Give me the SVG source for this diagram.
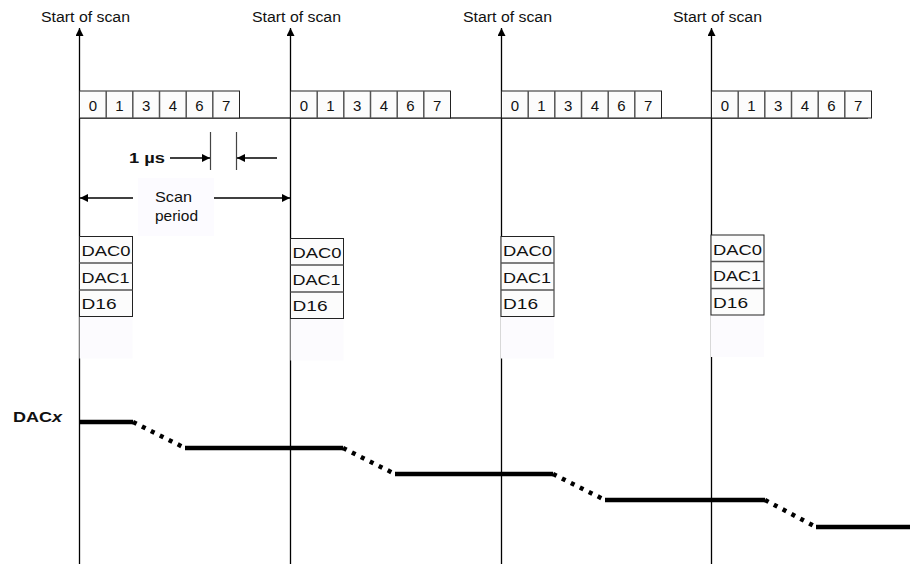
<svg xmlns="http://www.w3.org/2000/svg" width="910" height="564" viewBox="0 0 910 564">
<defs>
<marker id="ah" viewBox="0 0 10 10" refX="10" refY="5" markerWidth="8" markerHeight="8" markerUnits="userSpaceOnUse" orient="auto"><path d="M0,0 L10,5 L0,10 z" fill="#000"/></marker>
<g id="cells">
<rect x="0" y="0" width="160" height="27" fill="#fcfcfc" stroke="#222" stroke-width="1"/>
<path d="M26.7,0 V27 M53.3,0 V27 M80,0 V27 M106.7,0 V27 M133.3,0 V27" stroke="#555" stroke-width="1.5"/>
<text x="13.3" y="19.5" class="c">0</text><text x="40" y="19.5" class="c">1</text><text x="66.7" y="19.5" class="c">3</text><text x="93.3" y="19.5" class="c">4</text><text x="120" y="19.5" class="c">6</text><text x="146.7" y="19.5" class="c">7</text>
</g>
<g id="dac">
<rect x="0" y="80" width="53" height="42" fill="#fcfbfe"/>
<rect x="0" y="0" width="53" height="80" fill="#fcfcfc" stroke="#222" stroke-width="1"/>
<path d="M0,26.5 H53 M0,53.5 H53" stroke="#555" stroke-width="1.5"/>
<text x="2" y="19.5" class="d" textLength="49" lengthAdjust="spacingAndGlyphs">DAC0</text><text x="2" y="46" class="d" textLength="48" lengthAdjust="spacingAndGlyphs">DAC1</text><text x="2" y="72.5" class="d" textLength="35" lengthAdjust="spacingAndGlyphs">D16</text>
</g>
</defs>
<style>
text{font-family:"Liberation Sans",Arial,sans-serif;fill:#111}
.c{font-size:15px;text-anchor:middle}
.d{font-size:15px}
.s{font-size:14px}
.v{stroke:#444;stroke-width:1.2;fill:none}
.w{stroke:#000;stroke-width:4.5;fill:none}
.wd{stroke:#000;stroke-width:4.5;fill:none;stroke-dasharray:4 6}
.a{stroke:#000;stroke-width:1.3;fill:none;marker-end:url(#ah)}
</style>
<rect width="910" height="564" fill="#fff"/>
<g id="connectors">
<line x1="79.5" y1="118" x2="868" y2="118" stroke="#333" stroke-width="1.5"/>
<line class="a" x1="79.5" y1="564" x2="79.5" y2="28"/>
<line class="a" x1="290.5" y1="564" x2="290.5" y2="28"/>
<line class="a" x1="501.5" y1="564" x2="501.5" y2="28"/>
<line class="a" x1="711.5" y1="564" x2="711.5" y2="28"/>
<line class="v" x1="210.5" y1="132" x2="210.5" y2="170"/>
<line class="v" x1="236.5" y1="132" x2="236.5" y2="170"/>
<line class="a" x1="170" y1="158" x2="210" y2="158"/>
<line class="a" x1="277" y1="158" x2="237" y2="158"/>
<line class="a" x1="133" y1="198" x2="80" y2="198"/>
<line class="a" x1="213" y1="198" x2="290" y2="198"/>
</g>
<g id="labels">
<text class="s" x="41" y="22" textLength="89" lengthAdjust="spacingAndGlyphs">Start of scan</text>
<text class="s" x="252" y="22" textLength="89" lengthAdjust="spacingAndGlyphs">Start of scan</text>
<text class="s" x="463" y="22" textLength="89" lengthAdjust="spacingAndGlyphs">Start of scan</text>
<text class="s" x="673" y="22" textLength="89" lengthAdjust="spacingAndGlyphs">Start of scan</text>
<text x="129" y="163" font-size="15" font-weight="bold" textLength="36" lengthAdjust="spacingAndGlyphs">1 µs</text>
<rect x="138" y="178" width="76" height="58" fill="#fcfbff"/>
<text x="155" y="202" font-size="15" textLength="37" lengthAdjust="spacingAndGlyphs">Scan</text>
<text x="155" y="221" font-size="15" textLength="43" lengthAdjust="spacingAndGlyphs">period</text>
<text x="13" y="422" font-size="15" font-weight="bold" textLength="49" lengthAdjust="spacingAndGlyphs">DAC<tspan font-style="italic">x</tspan></text>
</g>
<g id="scan1"><use href="#cells" x="79.5" y="91"/><use href="#dac" x="79.5" y="236.5"/></g>
<g id="scan2"><use href="#cells" x="290.5" y="91"/><use href="#dac" x="290.5" y="238.5"/></g>
<g id="scan3"><use href="#cells" x="501.5" y="91"/><use href="#dac" x="501" y="236.5"/></g>
<g id="scan4"><use href="#cells" x="711.5" y="91"/><use href="#dac" x="711" y="235"/></g>
<g id="waveform">
<path class="w" d="M79,422 H133 M185,448 H343 M395,474 H553 M605,500 H765 M816,527 H910"/>
<path class="wd" d="M133,422 L185,448 M343,448 L395,474 M553,474 L605,500 M765,500 L816,527"/>
</g>
</svg>
